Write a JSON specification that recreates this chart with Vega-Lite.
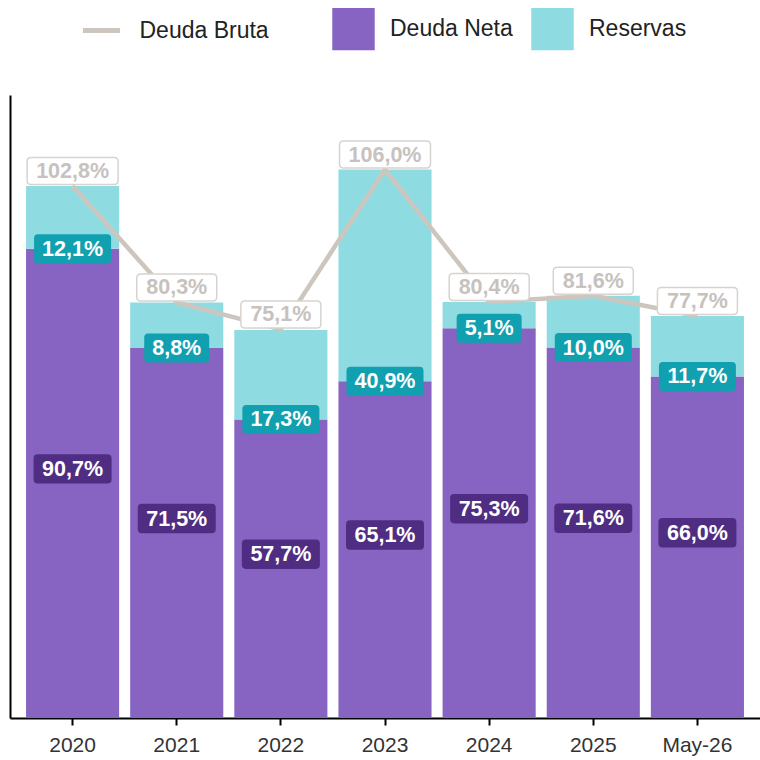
{
  "$schema": "https://vega.github.io/schema/vega-lite/v6.json",
  "width": 750,
  "height": 623,
  "autosize": {"type": "none"},
  "padding": {"left": 10, "top": 95, "right": 0, "bottom": 42},
  "background": "white",
  "config": {
    "view": {"stroke": null},
    "font": "Liberation Sans",
    "axisY": {"labels": false, "ticks": false, "grid": false, "domainColor": "#000000", "domainWidth": 2},
    "axisX": {"labelFontSize": 21, "labelColor": "#333333", "labelAngle": 0, "tickColor": "#000000", "tickWidth": 2, "tickSize": 7, "domainColor": "#000000", "domainWidth": 2, "labelPadding": 9, "grid": false, "labelFont": "Liberation Sans"}
  },
  "data": {
    "values": [
      {"periodo": "2020", "Deuda Neta": 90.7, "Reservas": 12.1, "Deuda Bruta": 102.8},
      {"periodo": "2021", "Deuda Neta": 71.5, "Reservas": 8.8, "Deuda Bruta": 80.3},
      {"periodo": "2022", "Deuda Neta": 57.7, "Reservas": 17.3, "Deuda Bruta": 75.1},
      {"periodo": "2023", "Deuda Neta": 65.1, "Reservas": 40.9, "Deuda Bruta": 106.0},
      {"periodo": "2024", "Deuda Neta": 75.3, "Reservas": 5.1, "Deuda Bruta": 80.4},
      {"periodo": "2025", "Deuda Neta": 71.6, "Reservas": 10.0, "Deuda Bruta": 81.6},
      {"periodo": "May-26", "Deuda Neta": 66.0, "Reservas": 11.7, "Deuda Bruta": 77.7}
    ]
  },
  "transform": [
    {"calculate": "replace(format(datum['Deuda Neta'], '.1f'), '.', ',') + '%'", "as": "lblNeta"},
    {"calculate": "replace(format(datum['Reservas'], '.1f'), '.', ',') + '%'", "as": "lblRes"},
    {"calculate": "replace(format(datum['Deuda Bruta'], '.1f'), '.', ',') + '%'", "as": "lblBruta"},
    {"calculate": "datum['Deuda Neta'] / 2", "as": "midNeta"}
  ],
  "encoding": {
    "x": {"field": "periodo", "type": "nominal", "sort": null, "title": null, "scale": {"paddingInner": 0.106, "paddingOuter": 0.154}}
  },
  "layer": [
    {
      "transform": [{"fold": ["Deuda Neta", "Reservas"], "as": ["serie", "valor"]}],
      "mark": {"type": "bar"},
      "encoding": {
        "y": {"field": "valor", "type": "quantitative", "stack": "zero", "title": null, "scale": {"domain": [0, 120.4], "nice": false}},
        "color": {
          "field": "serie", "type": "nominal",
          "scale": {"domain": ["Deuda Neta", "Reservas"], "range": ["#8764c2", "#8fdbe2"]},
          "legend": {
            "orient": "none", "legendX": 322, "legendY": -87.5, "direction": "horizontal", "title": null,
            "symbolType": "square", "symbolSize": 1800, "symbolStrokeWidth": 0, "symbolOpacity": 1,
            "labelFontSize": 23, "labelColor": "#222222", "labelFont": "Liberation Sans", "labelOffset": 15, "columnPadding": 18, "padding": 0
          }
        },
        "order": {"field": "serie", "type": "ordinal", "sort": "ascending"}
      }
    },
    {
      "mark": {"type": "line", "strokeWidth": 4.5},
      "encoding": {
        "y": {"field": "Deuda Bruta", "type": "quantitative", "title": null, "scale": {"domain": [0, 120.4], "nice": false}},
        "stroke": {
          "datum": "Deuda Bruta",
          "scale": {"domain": ["Deuda Bruta"], "range": ["#cdc6bf"]},
          "legend": {
            "orient": "none", "legendX": 67.5, "legendY": -88.5, "direction": "horizontal", "title": null,
            "symbolType": "M-0.875,0 L0.875,0", "symbolSize": 1800, "symbolStrokeWidth": 5, "symbolStrokeColor": "#cdc6bf", "symbolFillColor": "transparent", "symbolOpacity": 1,
            "labelFontSize": 23, "labelColor": "#222222", "labelFont": "Liberation Sans", "labelOffset": 14, "padding": 0
          }
        }
      }
    },
    {
      "mark": {"type": "point", "filled": true, "fill": "white", "stroke": "#d8d3ce", "strokeWidth": 1.5, "opacity": 1, "yOffset": -15},
      "encoding": {
        "y": {"field": "Deuda Bruta", "type": "quantitative", "title": null, "scale": {"domain": [0, 120.4], "nice": false}},
        "shape": {
          "condition": {"test": "datum['Deuda Bruta'] >= 100", "value": "M-0.912,-0.297 L0.912,-0.297 Q1,-0.297 1,-0.209 L1,0.209 Q1,0.297 0.912,0.297 L-0.912,0.297 Q-1,0.297 -1,0.209 L-1,-0.209 Q-1,-0.297 -0.912,-0.297 Z"},
          "value": "M-0.9,-0.3375 L0.9,-0.3375 Q1,-0.3375 1,-0.2375 L1,0.2375 Q1,0.3375 0.9,0.3375 L-0.9,0.3375 Q-1,0.3375 -1,0.2375 L-1,-0.2375 Q-1,-0.3375 -0.9,-0.3375 Z"
        },
        "size": {"condition": {"test": "datum['Deuda Bruta'] >= 100", "value": 8281}, "value": 6400}
      }
    },
    {
      "mark": {"type": "text", "fontSize": 21.5, "fontWeight": "bold", "color": "#c7c2bd", "yOffset": -14, "baseline": "middle"},
      "encoding": {
        "y": {"field": "Deuda Bruta", "type": "quantitative", "title": null, "scale": {"domain": [0, 120.4], "nice": false}},
        "text": {"field": "lblBruta"}
      }
    },
    {
      "mark": {"type": "point", "filled": true, "fill": "#10a0af", "strokeWidth": 0, "opacity": 1},
      "encoding": {
        "y": {"field": "Deuda Neta", "type": "quantitative", "title": null, "scale": {"domain": [0, 120.4], "nice": false}},
        "shape": {
          "condition": {"test": "datum['Reservas'] >= 10", "value": "M-0.896,-0.377 L0.896,-0.377 Q1,-0.377 1,-0.273 L1,0.273 Q1,0.377 0.896,0.377 L-0.896,0.377 Q-1,0.377 -1,0.273 L-1,-0.273 Q-1,-0.377 -0.896,-0.377 Z"},
          "value": "M-0.877,-0.446 L0.877,-0.446 Q1,-0.446 1,-0.323 L1,0.323 Q1,0.446 0.877,0.446 L-0.877,0.446 Q-1,0.446 -1,0.323 L-1,-0.323 Q-1,-0.446 -0.877,-0.446 Z"
        },
        "size": {"condition": {"test": "datum['Reservas'] >= 10", "value": 5929}, "value": 4225}
      }
    },
    {
      "mark": {"type": "text", "fontSize": 21.5, "fontWeight": "bold", "color": "white", "baseline": "middle", "yOffset": 1},
      "encoding": {
        "y": {"field": "Deuda Neta", "type": "quantitative", "title": null, "scale": {"domain": [0, 120.4], "nice": false}},
        "text": {"field": "lblRes"}
      }
    },
    {
      "mark": {"type": "point", "filled": true, "fill": "#4e2d82", "strokeWidth": 0, "opacity": 1, "yOffset": -14.5},
      "encoding": {
        "y": {"field": "midNeta", "type": "quantitative", "title": null, "scale": {"domain": [0, 120.4], "nice": false}},
        "shape": {"value": "M-0.896,-0.377 L0.896,-0.377 Q1,-0.377 1,-0.273 L1,0.273 Q1,0.377 0.896,0.377 L-0.896,0.377 Q-1,0.377 -1,0.273 L-1,-0.273 Q-1,-0.377 -0.896,-0.377 Z"},
        "size": {"value": 6084}
      }
    },
    {
      "mark": {"type": "text", "fontSize": 21.5, "fontWeight": "bold", "color": "white", "baseline": "middle", "yOffset": -13.5},
      "encoding": {
        "y": {"field": "midNeta", "type": "quantitative", "title": null, "scale": {"domain": [0, 120.4], "nice": false}},
        "text": {"field": "lblNeta"}
      }
    }
  ]
}
